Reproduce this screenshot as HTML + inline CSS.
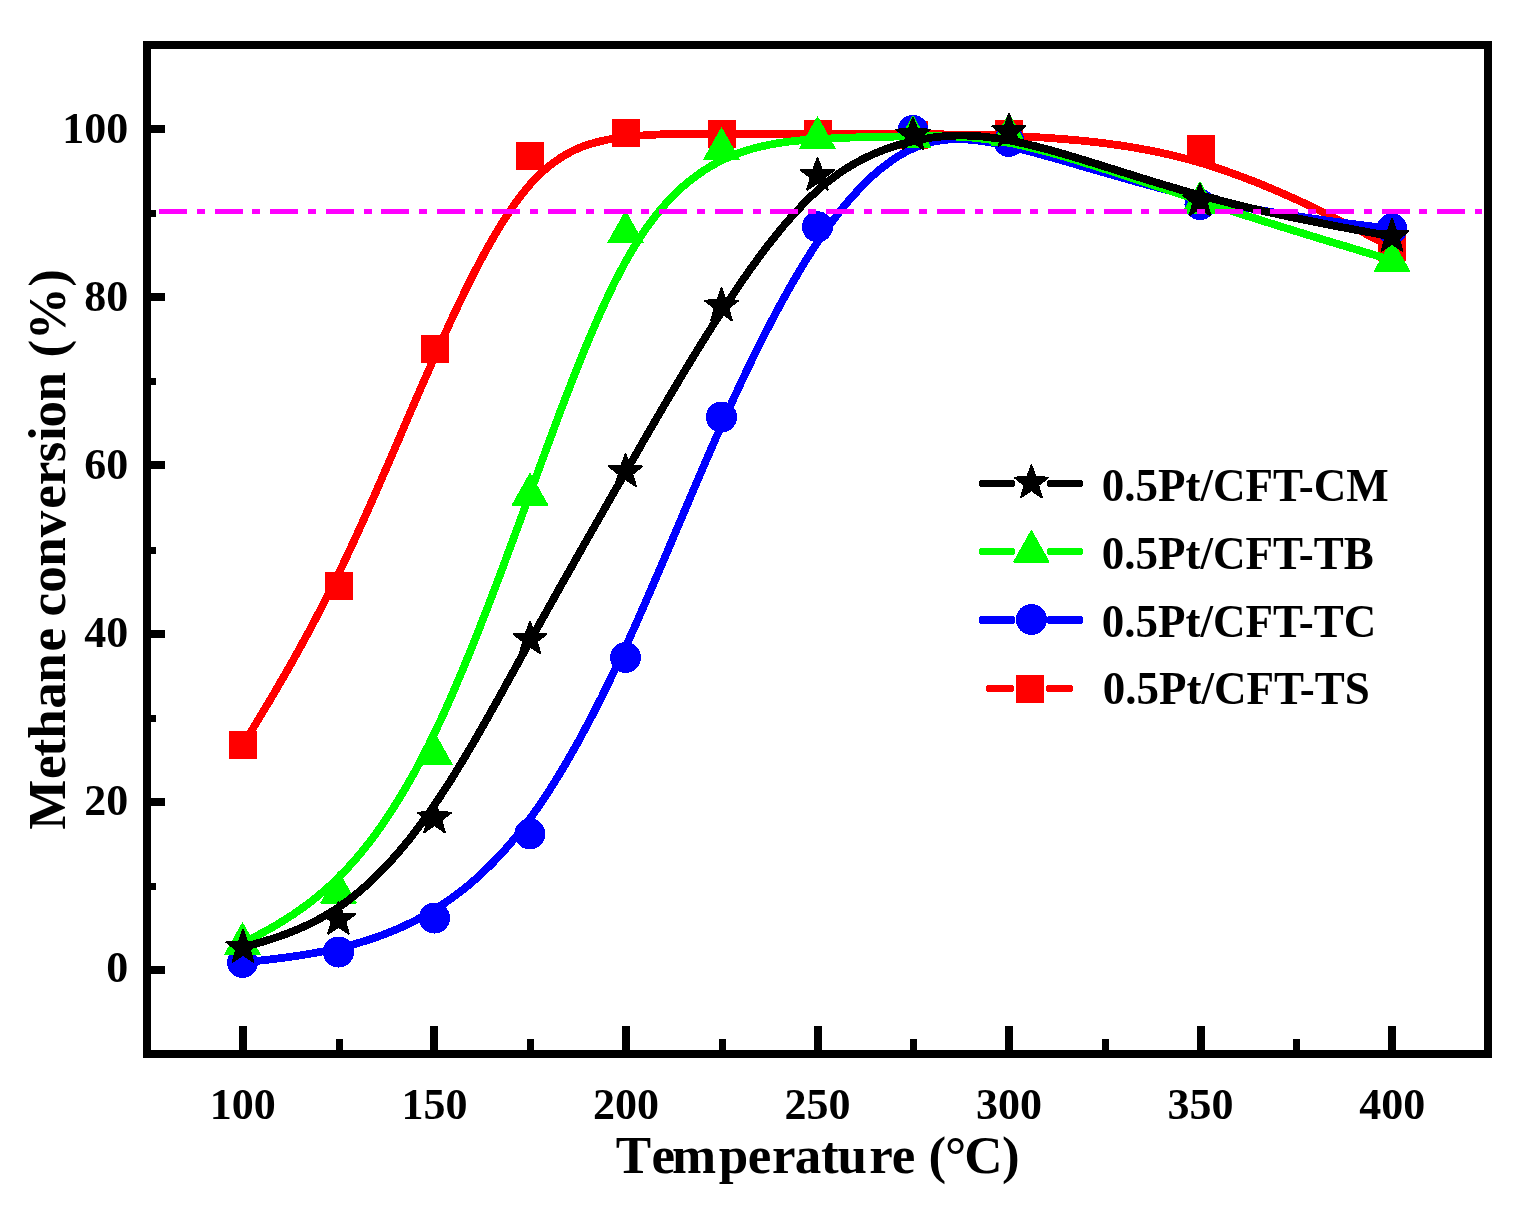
<!DOCTYPE html>
<html lang="en"><head><meta charset="utf-8"><title>Methane conversion</title>
<style>
html,body{margin:0;padding:0;background:#fff}
body{width:1536px;height:1205px;overflow:hidden}
svg{display:block}
text{font-family:"Liberation Serif",serif;font-weight:bold;fill:#000}
</style></head><body>
<svg width="1536" height="1205" viewBox="0 0 1536 1205" shape-rendering="crispEdges">
<rect width="1536" height="1205" fill="#fff"/>
<path d="M243.0 745.0 L243.0 745.0 L243.0 744.9 L243.1 744.8 L243.2 744.6 L243.5 744.2 L243.8 743.6 L244.3 742.8 L245.0 741.7 L245.8 740.3 L246.9 738.5 L248.2 736.4 L249.8 733.8 L251.6 730.7 L253.7 727.2 L256.2 723.1 L259.0 718.4 L262.2 713.1 L265.7 707.2 L269.6 700.8 L273.8 693.7 L278.2 686.1 L282.9 678.0 L287.8 669.4 L293.0 660.3 L298.3 650.8 L303.8 640.8 L309.5 630.4 L315.2 619.5 L321.1 608.3 L327.0 596.8 L333.0 584.9 L339.0 572.7 L345.0 560.1 L351.0 547.4 L357.0 534.3 L363.0 521.1 L369.0 507.6 L375.0 494.1 L381.0 480.4 L387.0 466.6 L393.0 452.7 L399.0 438.8 L404.9 424.9 L410.9 411.0 L416.9 397.1 L422.9 383.4 L428.9 369.8 L434.8 356.2 L440.8 342.9 L446.8 329.8 L452.7 316.9 L458.7 304.3 L464.6 291.9 L470.6 279.9 L476.5 268.2 L482.5 256.9 L488.5 246.1 L494.4 235.7 L500.4 225.7 L506.3 216.3 L512.3 207.4 L518.2 199.1 L524.2 191.4 L530.2 184.3 L536.1 177.9 L542.1 172.1 L548.1 166.9 L554.1 162.3 L560.1 158.1 L566.0 154.5 L572.0 151.3 L578.0 148.5 L584.0 146.1 L590.0 144.1 L596.0 142.4 L602.0 140.9 L608.0 139.6 L614.0 138.6 L620.0 137.7 L626.0 137.0 L632.0 136.4 L638.0 135.8 L644.0 135.3 L650.0 134.9 L656.0 134.6 L662.0 134.3 L668.0 134.1 L674.0 134.0 L680.0 133.9 L686.0 133.8 L692.0 133.8 L698.0 133.7 L704.0 133.7 L710.0 133.8 L716.0 133.8 L722.0 133.8 L728.0 133.9 L734.0 133.9 L740.0 133.9 L746.0 133.9 L752.0 133.9 L758.0 134.0 L764.0 134.0 L770.0 134.0 L776.0 134.0 L782.0 134.0 L788.0 134.0 L794.0 134.0 L800.0 134.0 L806.0 134.1 L812.0 134.1 L818.0 134.1 L824.0 134.1 L830.0 134.1 L836.0 134.1 L842.0 134.2 L848.0 134.2 L854.0 134.2 L860.0 134.2 L866.0 134.2 L872.0 134.3 L878.0 134.3 L883.9 134.3 L889.9 134.3 L895.9 134.3 L901.9 134.3 L907.9 134.3 L913.8 134.3 L919.8 134.3 L925.8 134.3 L931.8 134.3 L937.9 134.3 L944.1 134.4 L950.4 134.4 L956.9 134.5 L963.5 134.6 L970.3 134.7 L977.3 134.8 L984.6 135.0 L992.1 135.2 L999.9 135.5 L1008.0 135.8 L1016.4 136.2 L1025.2 136.6 L1034.3 137.1 L1043.8 137.6 L1053.7 138.3 L1063.8 139.1 L1074.2 140.0 L1084.9 141.0 L1095.9 142.2 L1107.0 143.6 L1118.3 145.1 L1129.8 146.9 L1141.4 148.9 L1153.2 151.1 L1165.0 153.7 L1176.9 156.4 L1188.9 159.5 L1200.8 162.9 L1212.8 166.6 L1224.7 170.6 L1236.5 174.8 L1248.2 179.2 L1259.7 183.7 L1270.9 188.4 L1281.9 193.1 L1292.5 197.8 L1302.8 202.5 L1312.6 207.2 L1322.0 211.7 L1330.8 216.0 L1339.1 220.2 L1346.8 224.1 L1353.8 227.7 L1360.2 230.9 L1365.8 233.8 L1370.7 236.3 L1374.9 238.5 L1378.6 240.4 L1381.7 242.0 L1384.2 243.3 L1386.3 244.4 L1388.0 245.3 L1389.3 245.9 L1390.3 246.4 L1391.0 246.8 L1391.5 247.0 L1391.8 247.2 L1391.9 247.3 L1392.0 247.3 L1392.0 247.3" fill="none" stroke="#ff0000" stroke-width="7.8" stroke-linejoin="round" stroke-linecap="round"/>
<g><rect x="229.0" y="731.0" width="28" height="28" fill="#ff0000"/><rect x="325.0" y="571.5" width="28" height="28" fill="#ff0000"/><rect x="421.0" y="335.0" width="28" height="28" fill="#ff0000"/><rect x="516.0" y="142.0" width="28" height="28" fill="#ff0000"/><rect x="612.0" y="119.0" width="28" height="28" fill="#ff0000"/><rect x="708.0" y="120.0" width="28" height="28" fill="#ff0000"/><rect x="804.0" y="120.0" width="28" height="28" fill="#ff0000"/><rect x="900.0" y="120.5" width="28" height="28" fill="#ff0000"/><rect x="995.0" y="120.0" width="28" height="28" fill="#ff0000"/><rect x="1187.0" y="135.0" width="28" height="28" fill="#ff0000"/><rect x="1378.0" y="233.3" width="28" height="28" fill="#ff0000"/></g>
<path d="M242.5 962.5 L242.5 962.5 L242.5 962.5 L242.6 962.5 L242.7 962.5 L243.0 962.4 L243.3 962.4 L243.8 962.4 L244.5 962.3 L245.3 962.2 L246.4 962.1 L247.7 961.9 L249.2 961.8 L251.1 961.6 L253.2 961.3 L255.7 961.1 L258.5 960.7 L261.7 960.4 L265.2 960.0 L269.1 959.6 L273.2 959.1 L277.7 958.5 L282.4 957.9 L287.3 957.3 L292.5 956.5 L297.8 955.8 L303.3 954.9 L309.0 954.0 L314.8 952.9 L320.6 951.9 L326.5 950.7 L332.5 949.4 L338.5 948.1 L344.5 946.6 L350.5 945.1 L356.5 943.5 L362.5 941.7 L368.5 939.8 L374.5 937.9 L380.5 935.7 L386.5 933.5 L392.5 931.1 L398.5 928.5 L404.5 925.8 L410.5 922.9 L416.5 919.9 L422.4 916.7 L428.4 913.3 L434.4 909.7 L440.4 905.9 L446.4 901.9 L452.4 897.7 L458.3 893.2 L464.3 888.6 L470.3 883.7 L476.3 878.5 L482.2 873.0 L488.2 867.3 L494.2 861.3 L500.2 855.0 L506.1 848.4 L512.1 841.4 L518.1 834.2 L524.0 826.5 L530.0 818.6 L536.0 810.3 L541.9 801.6 L547.9 792.6 L553.9 783.2 L559.8 773.5 L565.8 763.5 L571.8 753.1 L577.8 742.5 L583.7 731.5 L589.7 720.3 L595.7 708.7 L601.7 696.9 L607.6 684.8 L613.6 672.4 L619.6 659.7 L625.6 646.8 L631.6 633.7 L637.6 620.3 L643.5 606.7 L649.5 593.0 L655.5 579.1 L661.5 565.2 L667.5 551.1 L673.5 537.0 L679.5 522.8 L685.5 508.7 L691.5 494.6 L697.5 480.5 L703.5 466.5 L709.5 452.7 L715.5 438.9 L721.5 425.4 L727.5 412.0 L733.5 398.9 L739.5 385.9 L745.5 373.2 L751.5 360.8 L757.5 348.5 L763.5 336.6 L769.5 324.9 L775.5 313.5 L781.5 302.4 L787.5 291.6 L793.5 281.1 L799.5 270.9 L805.4 261.1 L811.4 251.6 L817.4 242.4 L823.4 233.7 L829.4 225.3 L835.4 217.3 L841.3 209.6 L847.3 202.3 L853.3 195.5 L859.3 189.0 L865.3 182.8 L871.2 177.1 L877.2 171.8 L883.2 166.9 L889.2 162.4 L895.1 158.3 L901.1 154.5 L907.1 151.3 L913.1 148.4 L919.1 145.9 L925.1 143.9 L931.1 142.2 L937.3 140.9 L943.5 140.0 L949.9 139.4 L956.3 139.2 L963.0 139.3 L969.8 139.7 L976.9 140.4 L984.1 141.4 L991.7 142.7 L999.5 144.2 L1007.6 146.0 L1016.0 148.0 L1024.8 150.2 L1034.0 152.6 L1043.5 155.2 L1053.3 157.9 L1063.4 160.8 L1073.8 163.8 L1084.5 166.9 L1095.4 170.1 L1106.5 173.3 L1117.8 176.5 L1129.3 179.8 L1140.8 183.0 L1152.6 186.2 L1164.4 189.3 L1176.3 192.3 L1188.2 195.3 L1200.2 198.1 L1212.1 200.7 L1224.0 203.3 L1235.9 205.6 L1247.6 207.9 L1259.1 209.9 L1270.4 211.9 L1281.3 213.7 L1292.0 215.4 L1302.3 217.0 L1312.2 218.5 L1321.6 219.8 L1330.5 221.1 L1338.8 222.2 L1346.6 223.2 L1353.6 224.1 L1360.0 224.9 L1365.6 225.6 L1370.6 226.3 L1374.8 226.8 L1378.5 227.3 L1381.6 227.7 L1384.2 228.0 L1386.3 228.3 L1388.0 228.5 L1389.3 228.7 L1390.3 228.8 L1391.0 228.9 L1391.5 228.9 L1391.8 229.0 L1391.9 229.0 L1392.0 229.0 L1392.0 229.0" fill="none" stroke="#0000ff" stroke-width="7.8" stroke-linejoin="round" stroke-linecap="round"/>
<g><circle cx="242.5" cy="962.5" r="15.5" fill="#0000ff"/><circle cx="338.5" cy="952.0" r="15.5" fill="#0000ff"/><circle cx="434.5" cy="918.0" r="15.5" fill="#0000ff"/><circle cx="530.0" cy="834.0" r="15.5" fill="#0000ff"/><circle cx="625.5" cy="657.5" r="15.5" fill="#0000ff"/><circle cx="721.5" cy="417.0" r="15.5" fill="#0000ff"/><circle cx="817.5" cy="226.8" r="15.5" fill="#0000ff"/><circle cx="913.0" cy="130.5" r="15.5" fill="#0000ff"/><circle cx="1009.0" cy="141.5" r="15.5" fill="#0000ff"/><circle cx="1200.0" cy="204.5" r="15.5" fill="#0000ff"/><circle cx="1392.0" cy="229.0" r="15.5" fill="#0000ff"/></g>
<path d="M242.5 943.5 L242.5 943.5 L242.5 943.5 L242.6 943.4 L242.7 943.4 L243.0 943.2 L243.3 943.0 L243.8 942.8 L244.5 942.4 L245.3 942.0 L246.4 941.4 L247.7 940.7 L249.2 939.9 L251.1 938.9 L253.2 937.7 L255.7 936.4 L258.5 934.9 L261.7 933.2 L265.2 931.3 L269.1 929.1 L273.2 926.8 L277.7 924.2 L282.4 921.3 L287.3 918.2 L292.5 914.9 L297.8 911.2 L303.3 907.3 L309.0 903.1 L314.8 898.6 L320.6 893.8 L326.5 888.7 L332.5 883.3 L338.5 877.5 L344.5 871.4 L350.5 864.9 L356.5 858.1 L362.5 850.9 L368.5 843.4 L374.5 835.5 L380.5 827.1 L386.5 818.4 L392.5 809.3 L398.5 799.7 L404.5 789.8 L410.5 779.4 L416.5 768.6 L422.4 757.3 L428.4 745.5 L434.4 733.3 L440.4 720.7 L446.4 707.6 L452.4 694.0 L458.3 680.1 L464.3 665.8 L470.3 651.2 L476.3 636.3 L482.2 621.2 L488.2 605.8 L494.2 590.1 L500.2 574.3 L506.1 558.4 L512.1 542.3 L518.1 526.1 L524.0 509.8 L530.0 493.5 L536.0 477.2 L541.9 461.0 L547.9 444.8 L553.9 428.7 L559.8 412.8 L565.8 397.1 L571.8 381.7 L577.8 366.6 L583.7 351.8 L589.7 337.4 L595.7 323.4 L601.7 309.9 L607.6 297.0 L613.6 284.5 L619.6 272.8 L625.6 261.6 L631.6 251.2 L637.6 241.4 L643.5 232.3 L649.5 223.7 L655.5 215.8 L661.5 208.5 L667.5 201.7 L673.5 195.4 L679.5 189.6 L685.5 184.3 L691.5 179.4 L697.5 174.9 L703.5 170.8 L709.5 167.0 L715.5 163.6 L721.5 160.5 L727.5 157.7 L733.5 155.2 L739.5 152.9 L745.5 150.9 L751.5 149.0 L757.5 147.4 L763.5 146.0 L769.5 144.7 L775.5 143.6 L781.5 142.7 L787.5 141.8 L793.5 141.1 L799.5 140.5 L805.4 140.0 L811.4 139.6 L817.4 139.2 L823.4 138.8 L829.4 138.5 L835.4 138.2 L841.3 138.0 L847.3 137.7 L853.3 137.5 L859.3 137.3 L865.3 137.2 L871.2 137.0 L877.2 136.9 L883.2 136.8 L889.2 136.7 L895.1 136.6 L901.1 136.5 L907.1 136.4 L913.1 136.3 L919.1 136.2 L925.1 136.2 L931.1 136.1 L937.3 136.1 L943.5 136.2 L949.9 136.3 L956.3 136.6 L963.0 136.9 L969.8 137.4 L976.9 138.1 L984.1 138.9 L991.7 139.9 L999.5 141.1 L1007.6 142.6 L1016.0 144.2 L1024.8 146.2 L1034.0 148.4 L1043.5 150.8 L1053.3 153.5 L1063.4 156.4 L1073.8 159.5 L1084.5 162.8 L1095.4 166.2 L1106.5 169.7 L1117.8 173.4 L1129.3 177.2 L1140.8 181.1 L1152.6 185.0 L1164.4 188.9 L1176.3 192.9 L1188.2 196.9 L1200.2 200.8 L1212.1 204.7 L1224.0 208.6 L1235.9 212.4 L1247.6 216.1 L1259.1 219.7 L1270.4 223.3 L1281.3 226.7 L1292.0 230.0 L1302.3 233.2 L1312.2 236.2 L1321.6 239.1 L1330.5 241.8 L1338.8 244.3 L1346.6 246.6 L1353.6 248.7 L1360.0 250.7 L1365.6 252.4 L1370.6 253.8 L1374.8 255.1 L1378.5 256.2 L1381.6 257.2 L1384.2 257.9 L1386.3 258.6 L1388.0 259.1 L1389.3 259.5 L1390.3 259.8 L1391.0 260.0 L1391.5 260.1 L1391.8 260.2 L1391.9 260.3 L1392.0 260.3 L1392.0 260.3" fill="none" stroke="#00ff00" stroke-width="7.8" stroke-linejoin="round" stroke-linecap="round"/>
<g><polygon points="242.5,922.8 260.3,954.5 224.7,954.5" fill="#00ff00" stroke="#00ff00" stroke-width="1" stroke-linejoin="round"/><polygon points="338.5,871.3 356.3,903.0 320.7,903.0" fill="#00ff00" stroke="#00ff00" stroke-width="1" stroke-linejoin="round"/><polygon points="434.5,732.8 452.3,764.5 416.7,764.5" fill="#00ff00" stroke="#00ff00" stroke-width="1" stroke-linejoin="round"/><polygon points="530.0,473.3 547.8,505.0 512.2,505.0" fill="#00ff00" stroke="#00ff00" stroke-width="1" stroke-linejoin="round"/><polygon points="625.5,211.1 643.3,242.8 607.7,242.8" fill="#00ff00" stroke="#00ff00" stroke-width="1" stroke-linejoin="round"/><polygon points="721.5,127.8 739.3,159.5 703.7,159.5" fill="#00ff00" stroke="#00ff00" stroke-width="1" stroke-linejoin="round"/><polygon points="817.5,116.8 835.3,148.5 799.7,148.5" fill="#00ff00" stroke="#00ff00" stroke-width="1" stroke-linejoin="round"/><polygon points="913.0,115.8 930.8,147.5 895.2,147.5" fill="#00ff00" stroke="#00ff00" stroke-width="1" stroke-linejoin="round"/><polygon points="1009.0,113.8 1026.8,145.5 991.2,145.5" fill="#00ff00" stroke="#00ff00" stroke-width="1" stroke-linejoin="round"/><polygon points="1200.0,181.8 1217.8,213.5 1182.2,213.5" fill="#00ff00" stroke="#00ff00" stroke-width="1" stroke-linejoin="round"/><polygon points="1392.0,239.6 1409.8,271.3 1374.2,271.3" fill="#00ff00" stroke="#00ff00" stroke-width="1" stroke-linejoin="round"/></g>
<path d="M243.0 947.5 L243.0 947.5 L243.0 947.5 L243.1 947.5 L243.2 947.4 L243.5 947.4 L243.8 947.3 L244.3 947.1 L245.0 946.9 L245.8 946.7 L246.9 946.4 L248.2 946.0 L249.7 945.5 L251.5 945.0 L253.7 944.4 L256.1 943.7 L258.9 942.8 L262.1 941.9 L265.6 940.8 L269.4 939.7 L273.6 938.3 L278.0 936.9 L282.7 935.2 L287.6 933.4 L292.8 931.4 L298.1 929.2 L303.5 926.8 L309.2 924.1 L314.9 921.3 L320.7 918.1 L326.6 914.8 L332.6 911.2 L338.6 907.2 L344.6 903.1 L350.6 898.6 L356.5 893.8 L362.5 888.8 L368.5 883.4 L374.5 877.8 L380.5 871.8 L386.5 865.6 L392.5 859.1 L398.5 852.3 L404.5 845.2 L410.5 837.8 L416.5 830.0 L422.4 822.0 L428.4 813.7 L434.4 805.1 L440.4 796.2 L446.4 787.0 L452.4 777.6 L458.3 767.9 L464.3 758.0 L470.3 747.9 L476.3 737.7 L482.2 727.3 L488.2 716.7 L494.2 706.1 L500.2 695.4 L506.1 684.6 L512.1 673.7 L518.1 662.9 L524.0 652.0 L530.0 641.2 L536.0 630.4 L541.9 619.6 L547.9 608.9 L553.9 598.2 L559.8 587.6 L565.8 577.0 L571.8 566.4 L577.8 555.8 L583.7 545.3 L589.7 534.8 L595.7 524.3 L601.7 513.8 L607.6 503.4 L613.6 492.9 L619.6 482.5 L625.6 472.1 L631.6 461.7 L637.6 451.3 L643.5 440.9 L649.5 430.6 L655.5 420.3 L661.5 410.0 L667.5 399.8 L673.5 389.7 L679.5 379.6 L685.5 369.6 L691.5 359.7 L697.5 349.9 L703.5 340.2 L709.5 330.7 L715.5 321.2 L721.5 311.9 L727.5 302.7 L733.5 293.7 L739.5 284.8 L745.5 276.1 L751.5 267.6 L757.5 259.3 L763.5 251.2 L769.5 243.4 L775.5 235.8 L781.5 228.4 L787.5 221.3 L793.5 214.5 L799.5 208.1 L805.4 201.9 L811.4 196.0 L817.4 190.5 L823.4 185.3 L829.4 180.5 L835.4 176.0 L841.3 171.8 L847.3 167.9 L853.3 164.3 L859.3 161.0 L865.3 157.9 L871.2 155.1 L877.2 152.5 L883.2 150.1 L889.2 148.0 L895.1 146.0 L901.1 144.2 L907.1 142.6 L913.1 141.2 L919.1 139.9 L925.1 138.7 L931.1 137.7 L937.3 136.9 L943.5 136.3 L949.9 135.8 L956.3 135.6 L963.0 135.5 L969.8 135.7 L976.9 136.1 L984.1 136.7 L991.7 137.6 L999.5 138.7 L1007.6 140.1 L1016.0 141.7 L1024.8 143.7 L1034.0 145.9 L1043.5 148.3 L1053.3 151.0 L1063.4 153.9 L1073.8 157.0 L1084.5 160.2 L1095.4 163.6 L1106.5 167.1 L1117.8 170.6 L1129.3 174.2 L1140.8 177.8 L1152.6 181.4 L1164.4 185.0 L1176.3 188.5 L1188.2 192.0 L1200.2 195.3 L1212.1 198.5 L1224.0 201.6 L1235.9 204.6 L1247.6 207.4 L1259.1 210.1 L1270.4 212.6 L1281.3 215.0 L1292.0 217.3 L1302.3 219.4 L1312.2 221.4 L1321.6 223.3 L1330.5 225.0 L1338.8 226.6 L1346.6 228.1 L1353.6 229.4 L1360.0 230.6 L1365.6 231.6 L1370.6 232.5 L1374.8 233.3 L1378.5 234.0 L1381.6 234.6 L1384.2 235.1 L1386.3 235.4 L1388.0 235.8 L1389.3 236.0 L1390.3 236.2 L1391.0 236.3 L1391.5 236.4 L1391.8 236.5 L1391.9 236.5 L1392.0 236.5 L1392.0 236.5" fill="none" stroke="#000000" stroke-width="7.8" stroke-linejoin="round" stroke-linecap="round"/>
<g><polygon points="243.0,930.0 247.2,941.7 259.6,942.1 249.8,949.7 253.3,961.7 243.0,954.7 232.7,961.7 236.2,949.7 226.4,942.1 238.8,941.7" fill="#000" stroke="#000" stroke-width="2" stroke-linejoin="round"/><polygon points="338.5,902.0 342.7,913.7 355.1,914.1 345.3,921.7 348.8,933.7 338.5,926.7 328.2,933.7 331.7,921.7 321.9,914.1 334.3,913.7" fill="#000" stroke="#000" stroke-width="2" stroke-linejoin="round"/><polygon points="434.5,800.5 438.7,812.2 451.1,812.6 441.3,820.2 444.8,832.2 434.5,825.2 424.2,832.2 427.7,820.2 417.9,812.6 430.3,812.2" fill="#000" stroke="#000" stroke-width="2" stroke-linejoin="round"/><polygon points="530.0,621.8 534.2,633.5 546.6,633.9 536.8,641.5 540.3,653.5 530.0,646.5 519.7,653.5 523.2,641.5 513.4,633.9 525.8,633.5" fill="#000" stroke="#000" stroke-width="2" stroke-linejoin="round"/><polygon points="625.5,454.3 629.7,466.0 642.1,466.4 632.3,474.0 635.8,486.0 625.5,479.0 615.2,486.0 618.7,474.0 608.9,466.4 621.3,466.0" fill="#000" stroke="#000" stroke-width="2" stroke-linejoin="round"/><polygon points="721.5,288.5 725.7,300.2 738.1,300.6 728.3,308.2 731.8,320.2 721.5,313.2 711.2,320.2 714.7,308.2 704.9,300.6 717.3,300.2" fill="#000" stroke="#000" stroke-width="2" stroke-linejoin="round"/><polygon points="817.5,158.0 821.7,169.7 834.1,170.1 824.3,177.7 827.8,189.7 817.5,182.7 807.2,189.7 810.7,177.7 800.9,170.1 813.3,169.7" fill="#000" stroke="#000" stroke-width="2" stroke-linejoin="round"/><polygon points="913.0,117.5 917.2,129.2 929.6,129.6 919.8,137.2 923.3,149.2 913.0,142.2 902.7,149.2 906.2,137.2 896.4,129.6 908.8,129.2" fill="#000" stroke="#000" stroke-width="2" stroke-linejoin="round"/><polygon points="1009.0,114.0 1013.2,125.7 1025.6,126.1 1015.8,133.7 1019.3,145.7 1009.0,138.7 998.7,145.7 1002.2,133.7 992.4,126.1 1004.8,125.7" fill="#000" stroke="#000" stroke-width="2" stroke-linejoin="round"/><polygon points="1200.0,183.5 1204.2,195.2 1216.6,195.6 1206.8,203.2 1210.3,215.2 1200.0,208.2 1189.7,215.2 1193.2,203.2 1183.4,195.6 1195.8,195.2" fill="#000" stroke="#000" stroke-width="2" stroke-linejoin="round"/><polygon points="1392.0,219.0 1396.2,230.7 1408.6,231.1 1398.8,238.7 1402.3,250.7 1392.0,243.7 1381.7,250.7 1385.2,238.7 1375.4,231.1 1387.8,230.7" fill="#000" stroke="#000" stroke-width="2" stroke-linejoin="round"/></g>
<line x1="159" y1="211.5" x2="1482.3" y2="211.5" stroke="#ff00ff" stroke-width="5" stroke-dasharray="28 9.8 8 9.77" shape-rendering="crispEdges"/>
<g shape-rendering="crispEdges" fill="#000">
<rect x="147" y="45" width="1341" height="1009" fill="none" stroke="#000" stroke-width="8"/>
<rect x="147" y="966.0" width="18" height="8"/>
<rect x="147" y="798.0" width="18" height="8"/>
<rect x="147" y="630.0" width="18" height="8"/>
<rect x="147" y="461.0" width="18" height="8"/>
<rect x="147" y="293.0" width="18" height="8"/>
<rect x="147" y="125.0" width="18" height="8"/>
<rect x="147" y="882.5" width="9" height="7"/>
<rect x="147" y="714.5" width="9" height="7"/>
<rect x="147" y="546.5" width="9" height="7"/>
<rect x="147" y="377.5" width="9" height="7"/>
<rect x="147" y="209.5" width="9" height="7"/>
<rect x="239.2" y="1026" width="7.5" height="28"/>
<rect x="430.2" y="1026" width="7.5" height="28"/>
<rect x="622.2" y="1026" width="7.5" height="28"/>
<rect x="814.2" y="1026" width="7.5" height="28"/>
<rect x="1005.2" y="1026" width="7.5" height="28"/>
<rect x="1197.2" y="1026" width="7.5" height="28"/>
<rect x="1388.2" y="1026" width="7.5" height="28"/>
<rect x="335.5" y="1039" width="7" height="15"/>
<rect x="526.5" y="1039" width="7" height="15"/>
<rect x="718.5" y="1039" width="7" height="15"/>
<rect x="909.5" y="1039" width="7" height="15"/>
<rect x="1101.5" y="1039" width="7" height="15"/>
<rect x="1292.5" y="1039" width="7" height="15"/>
</g>
<text class="tk" transform="translate(128.2 982.4) scale(1.0000 1.0050)" font-size="44" text-anchor="end">0</text>
<text class="tk" transform="translate(128.2 815.4) scale(1.0000 1.0050)" font-size="44" text-anchor="end">20</text>
<text class="tk" transform="translate(128.2 647.1) scale(1.0000 1.0050)" font-size="44" text-anchor="end">40</text>
<text class="tk" transform="translate(128.2 478.7) scale(1.0000 1.0050)" font-size="44" text-anchor="end">60</text>
<text class="tk" transform="translate(128.2 310.9) scale(1.0000 1.0050)" font-size="44" text-anchor="end">80</text>
<text class="tk" transform="translate(128.2 142.7) scale(1.0000 1.0050)" font-size="44" text-anchor="end">100</text>
<text class="tk" transform="translate(242.8 1119.3) scale(1.0000 1.0300)" font-size="44" text-anchor="middle">100</text>
<text class="tk" transform="translate(434.4 1119.3) scale(1.0000 1.0300)" font-size="44" text-anchor="middle">150</text>
<text class="tk" transform="translate(625.9 1119.3) scale(1.0000 1.0300)" font-size="44" text-anchor="middle">200</text>
<text class="tk" transform="translate(817.5 1119.3) scale(1.0000 1.0300)" font-size="44" text-anchor="middle">250</text>
<text class="tk" transform="translate(1009.1 1119.3) scale(1.0000 1.0300)" font-size="44" text-anchor="middle">300</text>
<text class="tk" transform="translate(1200.6 1119.3) scale(1.0000 1.0300)" font-size="44" text-anchor="middle">350</text>
<text class="tk" transform="translate(1392.2 1119.3) scale(1.0000 1.0300)" font-size="44" text-anchor="middle">400</text>
<text class="ti" font-size="53" y="1173" x="615.8 651.6 672.1 718.7 747.7 772.1 794.7 820.9 837.6 869.2 891.7 915.2 928.4 945.0 964.2 1001.9">Temperature (°C)</text>
<text class="ti" font-size="53" transform="translate(65 0) rotate(-90)" y="0" x="-829.7 -778.9 -756.4 -738.8 -708.7 -682.8 -651.4 -627.9 -616.4 -592.7 -566.7 -537.2 -508.7 -485.2 -462.2 -441.0 -427.6 -401.6 -372.1 -357.6 -340.2 -286.8">Methane conversion (%)</text>
<g fill="#000000"><rect x="979" y="480" width="36" height="7" rx="2.5"/><rect x="1047" y="480" width="36" height="7" rx="2.5"/></g>
<polygon points="1031.4,465.5 1035.6,477.2 1048.0,477.6 1038.2,485.2 1041.7,497.2 1031.4,490.2 1021.1,497.2 1024.6,485.2 1014.8,477.6 1027.2,477.2" fill="#000" stroke="#000" stroke-width="2" stroke-linejoin="round"/>
<text class="lg" transform="translate(1101.7 501.2) scale(1.0000 1.0450)" font-size="45" text-anchor="start">0.5Pt/CFT-CM</text>
<g fill="#00ff00"><rect x="979" y="548" width="36" height="7" rx="2.5"/><rect x="1047" y="548" width="36" height="7" rx="2.5"/></g>
<polygon points="1031.4,530.3 1049.2,562.0 1013.6,562.0" fill="#00ff00" stroke="#00ff00" stroke-width="1" stroke-linejoin="round"/>
<text class="lg" transform="translate(1101.7 568.7) scale(1.0000 1.0450)" font-size="45" text-anchor="start">0.5Pt/CFT-TB</text>
<g fill="#0000ff"><rect x="979" y="616" width="36" height="8" rx="2.5"/><rect x="1047" y="616" width="36" height="8" rx="2.5"/></g>
<circle cx="1031.4" cy="619.5" r="15.5" fill="#0000ff"/>
<text class="lg" transform="translate(1101.7 636.7) scale(1.0000 1.0450)" font-size="45" text-anchor="start">0.5Pt/CFT-TC</text>
<g fill="#ff0000"><rect x="986" y="685" width="28" height="7" rx="2.5"/><rect x="1046" y="685" width="27" height="7" rx="2.5"/></g>
<rect x="1016.0" y="675.0" width="28" height="28" fill="#ff0000"/>
<text class="lg" transform="translate(1102.7 703.7) scale(1.0000 1.0450)" font-size="45" text-anchor="start">0.5Pt/CFT-TS</text>
</svg></body></html>
